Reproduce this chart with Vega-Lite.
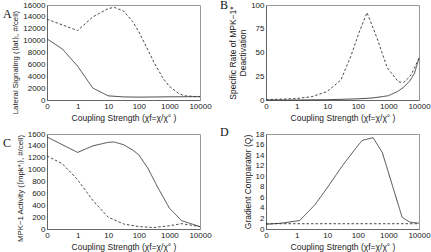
{
  "$schema": "https://vega.github.io/schema/vega-lite/v6.json",
  "autosize": {"type": "none"},
  "padding": {"left": 47, "top": 5, "right": 384, "bottom": 247},
  "background": "white",
  "columns": 2,
  "spacing": {"row": 34, "column": 66},
  "bounds": "flush",
  "config": {
    "view": {"stroke": "#999", "strokeWidth": 1},
    "axis": {
      "labelFont": "Liberation Sans", "labelFontSize": 8, "labelColor": "#222",
      "titleFont": "Liberation Sans", "titleFontSize": 8.5, "titleFontWeight": "normal", "titleColor": "#222",
      "grid": false, "ticks": false, "domainColor": "#666", "labelPadding": 2, "titlePadding": 3, "labelOverlap": false
    },
    "axisX": {"labelFlush": false},
    "title": {"font": "Liberation Serif", "fontSize": 12, "fontWeight": "normal", "anchor": "start", "frame": "group", "color": "#111", "baseline": "top", "offset": 3},
    "line": {"color": "#333", "strokeWidth": 0.9}
  },
  "concat": [
    {
      "width": 153, "height": 95,
      "title": {"text": "A", "dx": -44, "dy": 23},
      "data": {"values": [
        {"x": 0.1, "y": 10300, "s": "solid"}, {"x": 0.316, "y": 8600, "s": "solid"}, {"x": 1, "y": 5700, "s": "solid"},
        {"x": 3.16, "y": 2000, "s": "solid"}, {"x": 10, "y": 700, "s": "solid"}, {"x": 31.6, "y": 520, "s": "solid"},
        {"x": 100, "y": 480, "s": "solid"}, {"x": 1000, "y": 540, "s": "solid"}, {"x": 10000, "y": 560, "s": "solid"},
        {"x": 0.1, "y": 13600, "s": "dashed"}, {"x": 1, "y": 11700, "s": "dashed"}, {"x": 3.16, "y": 14000, "s": "dashed"},
        {"x": 10, "y": 15400, "s": "dashed"}, {"x": 15.8, "y": 15600, "s": "dashed"}, {"x": 31.6, "y": 15000, "s": "dashed"},
        {"x": 63.1, "y": 13200, "s": "dashed"}, {"x": 100, "y": 11500, "s": "dashed"}, {"x": 200, "y": 8400, "s": "dashed"},
        {"x": 316, "y": 6300, "s": "dashed"}, {"x": 631, "y": 3600, "s": "dashed"}, {"x": 1000, "y": 2300, "s": "dashed"},
        {"x": 2000, "y": 1100, "s": "dashed"}, {"x": 3160, "y": 700, "s": "dashed"}, {"x": 10000, "y": 550, "s": "dashed"}
      ]},
      "mark": {"type": "line"},
      "encoding": {
        "x": {"field": "x", "type": "quantitative", "scale": {"type": "log", "domain": [0.1, 10000], "nice": false},
              "axis": {"values": [0.1, 1, 10, 100, 1000, 10000], "labelExpr": "datum.value < 0.5 ? '0' : format(datum.value, 'd')", "title": "Coupling Strength (χf=χ/χ° )"}},
        "y": {"field": "y", "type": "quantitative", "scale": {"domain": [0, 16000], "nice": false},
              "axis": {"values": [0, 2000, 4000, 6000, 8000, 10000, 12000, 14000, 16000], "format": "d", "title": "Lateral Signaling (⟨lat⟩ᵢ, #/cell)", "titleFontSize": 7.8, "titleY": 57}},
        "strokeDash": {"field": "s", "type": "nominal", "scale": {"domain": ["solid", "dashed"], "range": [[1, 0], [2.5, 2]]}, "legend": null}
      }
    },
    {
      "width": 153, "height": 95,
      "title": {"text": "B", "dx": -46, "dy": 14},
      "data": {"values": [
        {"x": 0.1, "y": 0, "s": "solid"}, {"x": 1, "y": 0, "s": "solid"}, {"x": 10, "y": 0.3, "s": "solid"},
        {"x": 100, "y": 1.2, "s": "solid"}, {"x": 316, "y": 2.2, "s": "solid"}, {"x": 1000, "y": 4.5, "s": "solid"},
        {"x": 2000, "y": 9, "s": "solid"}, {"x": 3160, "y": 13.5, "s": "solid"}, {"x": 5000, "y": 20, "s": "solid"},
        {"x": 7080, "y": 28, "s": "solid"}, {"x": 10000, "y": 44, "s": "solid"},
        {"x": 0.1, "y": 0.3, "s": "dashed"}, {"x": 1, "y": 1.5, "s": "dashed"}, {"x": 3.16, "y": 3.5, "s": "dashed"},
        {"x": 10, "y": 9, "s": "dashed"}, {"x": 28, "y": 21, "s": "dashed"}, {"x": 59, "y": 46, "s": "dashed"},
        {"x": 110, "y": 71, "s": "dashed"}, {"x": 200, "y": 92, "s": "dashed"}, {"x": 427, "y": 65, "s": "dashed"},
        {"x": 912, "y": 34, "s": "dashed"}, {"x": 2140, "y": 19, "s": "dashed"}, {"x": 3160, "y": 18.5, "s": "dashed"},
        {"x": 4470, "y": 23, "s": "dashed"}, {"x": 5620, "y": 27, "s": "dashed"}, {"x": 10000, "y": 44, "s": "dashed"}
      ]},
      "mark": {"type": "line"},
      "encoding": {
        "x": {"field": "x", "type": "quantitative", "scale": {"type": "log", "domain": [0.1, 10000], "nice": false},
              "axis": {"values": [0.1, 1, 10, 100, 1000, 10000], "labelExpr": "datum.value < 0.5 ? '0' : format(datum.value, 'd')", "title": "Coupling Strength (χf=χ/χ° )"}},
        "y": {"field": "y", "type": "quantitative", "scale": {"domain": [0, 100], "nice": false},
              "axis": {"values": [0, 25, 50, 75, 100], "format": "d", "title": ["Specific Rate of MPK−1*", "Deactivation"]}},
        "strokeDash": {"field": "s", "type": "nominal", "scale": {"domain": ["solid", "dashed"], "range": [[1, 0], [2.5, 2]]}, "legend": null}
      }
    },
    {
      "width": 153, "height": 95,
      "title": {"text": "C", "dx": -44, "dy": 23},
      "data": {"values": [
        {"x": 0.1, "y": 1550, "s": "solid"}, {"x": 1, "y": 1290, "s": "solid"}, {"x": 3.16, "y": 1400, "s": "solid"},
        {"x": 10, "y": 1460, "s": "solid"}, {"x": 15.8, "y": 1465, "s": "solid"}, {"x": 31.6, "y": 1420, "s": "solid"},
        {"x": 63.1, "y": 1330, "s": "solid"}, {"x": 100, "y": 1250, "s": "solid"}, {"x": 200, "y": 1020, "s": "solid"},
        {"x": 398, "y": 720, "s": "solid"}, {"x": 1000, "y": 350, "s": "solid"}, {"x": 2510, "y": 140, "s": "solid"},
        {"x": 10000, "y": 40, "s": "solid"},
        {"x": 0.1, "y": 1230, "s": "dashed"}, {"x": 0.316, "y": 1100, "s": "dashed"}, {"x": 1, "y": 830, "s": "dashed"},
        {"x": 3.16, "y": 480, "s": "dashed"}, {"x": 10, "y": 200, "s": "dashed"}, {"x": 31.6, "y": 85, "s": "dashed"},
        {"x": 100, "y": 40, "s": "dashed"}, {"x": 316, "y": 25, "s": "dashed"}, {"x": 1000, "y": 55, "s": "dashed"},
        {"x": 2510, "y": 90, "s": "dashed"}, {"x": 10000, "y": 40, "s": "dashed"}
      ]},
      "mark": {"type": "line"},
      "encoding": {
        "x": {"field": "x", "type": "quantitative", "scale": {"type": "log", "domain": [0.1, 10000], "nice": false},
              "axis": {"values": [0.1, 1, 10, 100, 1000, 10000], "labelExpr": "datum.value < 0.5 ? '0' : format(datum.value, 'd')", "title": "Coupling Strength (χf=χ/χ° )"}},
        "y": {"field": "y", "type": "quantitative", "scale": {"domain": [0, 1600], "nice": false},
              "axis": {"values": [0, 200, 400, 600, 800, 1000, 1200, 1400, 1600], "format": "d", "title": "MPK−1 Activity (⟨mpk*ᵢ⟩, #/cell)", "titleFontSize": 7.8, "titleY": 54}},
        "strokeDash": {"field": "s", "type": "nominal", "scale": {"domain": ["solid", "dashed"], "range": [[1, 0], [2.5, 2]]}, "legend": null}
      }
    },
    {
      "width": 153, "height": 95,
      "title": {"text": "D", "dx": -46, "dy": 12},
      "data": {"values": [
        {"x": 0.1, "y": 0.9, "s": "solid"}, {"x": 0.316, "y": 1.1, "s": "solid"}, {"x": 1.26, "y": 1.6, "s": "solid"},
        {"x": 3.98, "y": 4.6, "s": "solid"}, {"x": 10, "y": 7.8, "s": "solid"}, {"x": 31.6, "y": 12, "s": "solid"},
        {"x": 100, "y": 15.8, "s": "solid"}, {"x": 141, "y": 16.8, "s": "solid"}, {"x": 316, "y": 17.3, "s": "solid"},
        {"x": 631, "y": 14.5, "s": "solid"}, {"x": 2820, "y": 2.2, "s": "solid"}, {"x": 5010, "y": 1.3, "s": "solid"},
        {"x": 10000, "y": 1.1, "s": "solid"},
        {"x": 0.1, "y": 1, "s": "dashed"}, {"x": 10000, "y": 1, "s": "dashed"}
      ]},
      "mark": {"type": "line"},
      "encoding": {
        "x": {"field": "x", "type": "quantitative", "scale": {"type": "log", "domain": [0.1, 10000], "nice": false},
              "axis": {"values": [0.1, 1, 10, 100, 1000, 10000], "labelExpr": "datum.value < 0.5 ? '0' : format(datum.value, 'd')", "title": "Coupling Strength (χf=χ/χ° )"}},
        "y": {"field": "y", "type": "quantitative", "scale": {"domain": [0, 18], "nice": false},
              "axis": {"values": [0, 2, 4, 6, 8, 10, 12, 14, 16, 18], "format": "d", "title": "Gradient Comparator (Q)"}},
        "strokeDash": {"field": "s", "type": "nominal", "scale": {"domain": ["solid", "dashed"], "range": [[1, 0], [2.5, 2]]}, "legend": null}
      }
    }
  ]
}
